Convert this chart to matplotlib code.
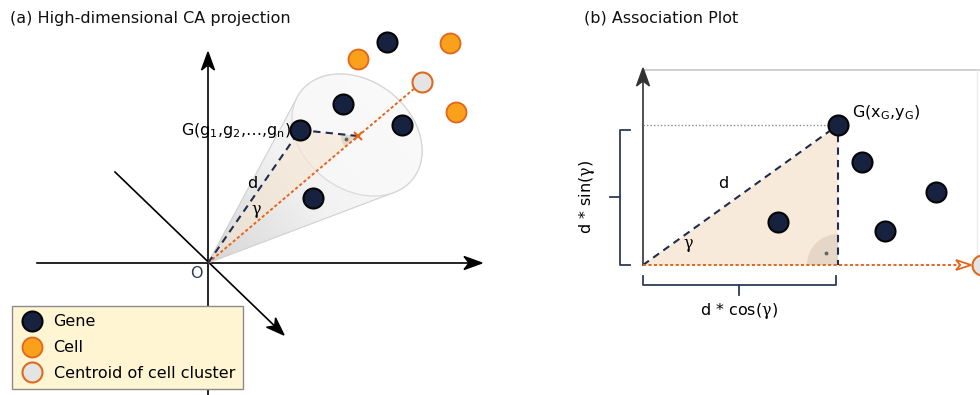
import numpy as np
import matplotlib
matplotlib.use("Agg")
import matplotlib.pyplot as plt
from matplotlib.patches import Polygon, Wedge
from matplotlib.lines import Line2D

plt.rcParams['font.family'] = ['DejaVu Sans']
plt.rcParams['mathtext.fontset'] = 'custom'
plt.rcParams['mathtext.rm'] = 'DejaVu Sans'
plt.rcParams['mathtext.it'] = 'DejaVu Serif'
plt.rcParams['mathtext.default'] = 'regular'

# ---------------- data (pixel space of the schematic) ----------------
# panel (a): high-dimensional CA projection
origin_a = [208, 263]
genes_a_x = [300, 343, 402, 313, 387]
genes_a_y = [130, 104, 125, 198, 42]
cells_a_x = [358, 450, 456]
cells_a_y = [59, 43, 112]
centroid_a = [422, 82]
proj_a = [358, 136]

# panel (b): association plot
origin_b = [643, 265]
genes_b_x = [838, 778, 862, 885, 936]
genes_b_y = [125, 222, 162, 231, 192]
centroid_b = [982, 265]

legend_labels = ["Gene", "Cell", "Centroid of cell cluster"]
title_a = "(a) High-dimensional CA projection"
title_b = "(b) Association Plot"

# ---------------- styles ----------------
GENE_FC, GENE_EC = '#16223f', '#050505'
CELL_FC, CELL_EC = '#f9a11b', '#e0661b'
CENT_FC, CENT_EC = '#e4e4e4', '#dd6a1f'
ORANGE = '#e4661c'
NAVY = '#1f2e4d'
BRACE = '#2d3c58'
PEACH = '#f6e4d0'
MS = 14.4  # marker size in points (~20 px)
FS = 11.5
GAM = r'$\mathit{\gamma}$'

fig = plt.figure(figsize=(9.8, 3.95), dpi=100)
ax = fig.add_axes([0, 0, 1, 1])
ax.set_xlim(0, 980)
ax.set_ylim(395, 0)
ax.axis('off')


def stealth(p0, p1, color='k', lw=1.2, ls='-', L=18, W=13, fill=True, z=1):
    p0 = np.asarray(p0, float)
    p1 = np.asarray(p1, float)
    d = (p1 - p0) / np.linalg.norm(p1 - p0)
    n = np.array([-d[1], d[0]])
    notch = p1 - 0.72 * L * d
    ax.plot([p0[0], notch[0]], [p0[1], notch[1]], color=color, lw=lw, linestyle=ls, zorder=z)
    head = [p1, p1 - L * d + W / 2 * n, notch, p1 - L * d - W / 2 * n]
    ax.add_patch(Polygon(head, closed=True, facecolor=color if fill else 'none',
                         edgecolor=color, lw=1.0 if fill else 1.3, zorder=z,
                         joinstyle='miter'))


# ================= panel (a) =================
ox, oy = origin_a
ax.text(10, 18, title_a, fontsize=FS, ha='left', va='center', color='#111111')

stealth((ox, 395), (ox, 52))
stealth((37, oy), (482, oy))
stealth((115, 172), (284, 335))
ax.text(196, 274, 'O', fontsize=FS, ha='center', va='center', color='#2d3c58')

# cone around the centroid direction
cdir = np.array(centroid_a, float) - np.array(origin_a, float)
vax = cdir / np.linalg.norm(cdir)
center = np.array([357.0, 135.0])
phi = np.radians(38)
u = np.array([np.cos(phi), np.sin(phi)])
v = np.array([u[1], -u[0]])
a_semi, b_semi = 71, 54
t = np.linspace(0, 2 * np.pi, 600, endpoint=False)
ell = center[None, :] + a_semi * np.cos(t)[:, None] * u + b_semi * np.sin(t)[:, None] * v
ang = np.arctan2(ell[:, 1] - oy, ell[:, 0] - ox)
i_min, i_max = np.argmin(ang), np.argmax(ang)
if i_min < i_max:
    arc1 = ell[i_min:i_max + 1]
    arc2 = np.vstack([ell[i_max:], ell[:i_min + 1]])
else:
    arc1 = np.vstack([ell[i_min:], ell[:i_max + 1]])
    arc2 = ell[i_max:i_min + 1]
far = arc1 if ((arc1 - center) @ vax).mean() > ((arc2 - center) @ vax).mean() else arc2
hull = np.vstack([[ox, oy], far])
hull_patch = Polygon(hull, closed=True, facecolor='none', edgecolor='#d0d0d0', lw=0.8, zorder=2)
ax.add_patch(hull_patch)
xs = np.linspace(200, 435, 240)
ys = np.linspace(60, 270, 220)
XX, YY = np.meshgrid(xs, ys)
pr = (XX - ox) * vax[0] + (YY - oy) * vax[1]
grad = np.clip(pr / 250.0, 0, 1)
img = ax.imshow(grad, extent=(xs[0], xs[-1], ys[-1], ys[0]), origin='upper',
                cmap=matplotlib.colors.LinearSegmentedColormap.from_list('g', ['#d6d6d6', '#f2f2f2', '#fbfbfb']),
                vmin=0, vmax=1, zorder=1.5, interpolation='bilinear', aspect='auto')
img.set_clip_path(hull_patch)
ax.add_patch(Polygon(ell, closed=True, facecolor='#f9f9f9', edgecolor='#d4d4d4', lw=0.9,
                     alpha=0.8, zorder=2.1))

# peach triangle origin - G - projection
gx, gy = genes_a_x[0], genes_a_y[0]
ax.add_patch(Polygon([origin_a, [gx, gy], proj_a], closed=True, facecolor=PEACH,
                     edgecolor='none', alpha=0.6, zorder=2.5))
a1 = np.degrees(np.arctan2(oy - proj_a[1], ox - proj_a[0]))
a2 = np.degrees(np.arctan2(gy - proj_a[1], gx - proj_a[0])) % 360
ax.add_patch(Wedge(proj_a, 17, a1, a2, facecolor='#d5c9bd', edgecolor='none', alpha=0.6, zorder=2.6))
ax.plot([proj_a[0] - 12], [proj_a[1] + 3], marker='o', ms=1.8, color='#666666', zorder=2.7)

ax.plot([ox, centroid_a[0]], [oy, centroid_a[1]], color=ORANGE, lw=1.4,
        linestyle=(0, (1.6, 1.2)), zorder=3)
ax.plot([ox, gx, proj_a[0]], [oy, gy, proj_a[1]], color=NAVY, lw=1.5,
        linestyle=(0, (3.5, 2.5)), zorder=3.1)
ax.plot([proj_a[0]], [proj_a[1]], marker='x', ms=6, mew=1.5, color=ORANGE, zorder=3.2)

ax.text(252, 183, 'd', fontsize=FS, ha='center', va='center')
ax.text(256, 211, GAM, fontsize=FS, ha='center', va='center')
ax.text(291, 130, r'G(g$_1$,g$_2$,…,g$_n$)', fontsize=FS, ha='right', va='center')

ax.scatter(genes_a_x, genes_a_y, s=MS**2, facecolor=GENE_FC, edgecolor=GENE_EC, lw=1.5, zorder=5)
ax.scatter(cells_a_x, cells_a_y, s=MS**2, facecolor=CELL_FC, edgecolor=CELL_EC, lw=1.3, zorder=5)
ax.scatter([centroid_a[0]], [centroid_a[1]], s=MS**2, facecolor=CENT_FC, edgecolor=CENT_EC, lw=1.5, zorder=5)

# legend
handles = [
    Line2D([], [], ls='', marker='o', ms=MS, mfc=GENE_FC, mec=GENE_EC, mew=1.5),
    Line2D([], [], ls='', marker='o', ms=MS, mfc=CELL_FC, mec=CELL_EC, mew=1.3),
    Line2D([], [], ls='', marker='o', ms=MS, mfc=CENT_FC, mec=CENT_EC, mew=1.5),
]
leg = ax.legend(handles, legend_labels, loc='lower left',
                bbox_to_anchor=(12 / 980, 1 - 389 / 395), fontsize=FS,
                frameon=True, fancybox=False, framealpha=1, facecolor='#fff5d3',
                edgecolor='#8c8c8c', borderpad=0.5, labelspacing=0.68,
                handletextpad=0.6, handlelength=1.5, borderaxespad=0)
leg.get_frame().set_linewidth(1.0)
leg.set_zorder(10)

# ================= panel (b) =================
bx, by = origin_b
Gx, Gy = genes_b_x[0], genes_b_y[0]
ax.text(584, 18, title_b, fontsize=FS, ha='left', va='center', color='#111111')

ax.plot([bx, 980], [70, 70], color='#c8c8c8', lw=1.2, zorder=1)
ax.plot([977, 977], [70, 255], color='#ececec', lw=1.0, zorder=1)
stealth((bx, by), (bx, 68), color='#333333')

ax.add_patch(Polygon([origin_b, [Gx, Gy], [Gx, by]], closed=True, facecolor=PEACH,
                     edgecolor='none', alpha=0.75, zorder=2))
ax.add_patch(Wedge((Gx, by), 31, 180, 270, facecolor='#e2d3c4', edgecolor='none', alpha=0.85, zorder=2.1))
ax.plot([Gx - 12], [by - 12], marker='o', ms=1.8, color='#666666', zorder=2.2)

ax.plot([bx, Gx - 10], [Gy, Gy], color='#8a8a8a', lw=1.0, linestyle=(0, (1, 1.5)), zorder=2.5)
ax.plot([bx, Gx, Gx], [by, Gy, by], color=NAVY, lw=1.5, linestyle=(0, (3.5, 2.5)), zorder=3)
stealth((bx, by), (centroid_b[0] - 11, by), color=ORANGE, lw=1.4, ls=(0, (1.6, 1.2)),
        L=15, W=10, fill=False, z=3.1)

ax.text(723, 183, 'd', fontsize=FS, ha='center', va='center')
ax.text(688, 246, GAM, fontsize=FS, ha='center', va='center')
ax.text(852, 113, r'G(x$_G$,y$_G$)', fontsize=FS, ha='left', va='center')

ax.scatter(genes_b_x, genes_b_y, s=MS**2, facecolor=GENE_FC, edgecolor=GENE_EC, lw=1.5, zorder=5)
ax.scatter([centroid_b[0]], [centroid_b[1]], s=MS**2, facecolor=CENT_FC, edgecolor=CENT_EC,
           lw=1.5, zorder=5)

# braces
ax.plot([630, 620, 620, 630], [130, 130, by, by], color=BRACE, lw=1.3, zorder=3,
        solid_joinstyle='round')
ax.plot([620, 610], [197, 197], color=BRACE, lw=1.3, zorder=3)
ax.text(587, 197, r'd * sin(' + GAM + ')', fontsize=FS, rotation=90, ha='center', va='center')

ax.plot([bx, bx, 836, 836], [276, 285, 285, 276], color=BRACE, lw=1.3, zorder=3,
        solid_joinstyle='round')
ax.plot([739, 739], [285, 295], color=BRACE, lw=1.3, zorder=3)
ax.text(739, 311, r'd * cos(' + GAM + ')', fontsize=FS, ha='center', va='center')

fig.savefig('out.png', dpi=100)
